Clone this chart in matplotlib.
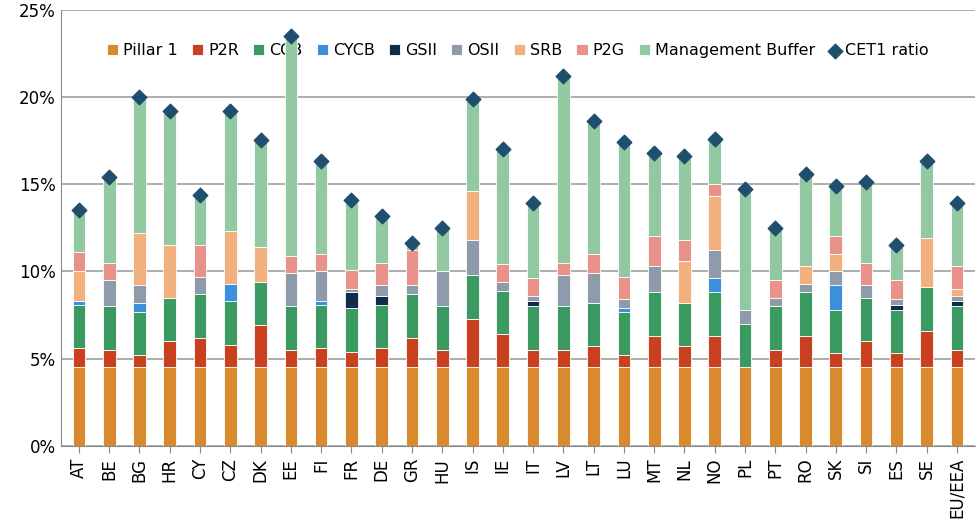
import matplotlib.pyplot as plt
import numpy as np
from matplotlib.ticker import FuncFormatter

countries = ["AT", "BE", "BG", "HR", "CY", "CZ", "DK", "EE", "FI", "FR", "DE", "GR", "HU", "IS", "IE",
             "IT", "LV", "LT", "LU", "MT", "NL", "NO", "PL", "PT", "RO", "SK", "SI", "ES", "SE", "EU/EEA"]

pillar1 = [4.5] * 30
p2r =  [1.1, 1.0, 0.7, 1.5, 1.7, 1.3, 2.4, 1.0, 1.1, 0.9, 1.1, 1.7, 1.0, 2.8, 1.9,
        1.0, 1.0, 1.2, 0.7, 1.8, 1.2, 1.8, 0.0, 1.0, 1.8, 0.8, 1.5, 0.8, 2.1, 1.0]
ccb =  [2.5] * 30
cycb = [0.2, 0.0, 0.5, 0.0, 0.0, 1.0, 0.0, 0.0, 0.2, 0.0, 0.0, 0.0, 0.0, 0.0, 0.0,
        0.0, 0.0, 0.0, 0.2, 0.0, 0.0, 0.8, 0.0, 0.0, 0.0, 1.4, 0.0, 0.0, 0.0, 0.0]
gsii = [0.0, 0.0, 0.0, 0.0, 0.0, 0.0, 0.0, 0.0, 0.0, 0.9, 0.5, 0.0, 0.0, 0.0, 0.0,
        0.3, 0.0, 0.0, 0.0, 0.0, 0.0, 0.0, 0.0, 0.0, 0.0, 0.0, 0.0, 0.3, 0.0, 0.3]
osii = [0.0, 1.5, 1.0, 0.0, 1.0, 0.0, 0.0, 1.9, 1.7, 0.2, 0.6, 0.5, 2.0, 2.0, 0.5,
        0.3, 1.8, 1.7, 0.5, 1.5, 0.0, 1.6, 0.8, 0.5, 0.5, 0.8, 0.7, 0.3, 0.0, 0.3]
srb =  [1.7, 0.0, 3.0, 3.0, 0.0, 3.0, 2.0, 0.0, 0.0, 0.0, 0.0, 0.0, 0.0, 2.8, 0.0,
        0.0, 0.0, 0.0, 0.0, 0.0, 2.4, 3.1, 0.0, 0.0, 1.0, 1.0, 0.0, 0.0, 2.8, 0.4]
p2g =  [1.1, 1.0, 0.0, 0.0, 1.8, 0.0, 0.0, 1.0, 1.0, 1.1, 1.3, 2.0, 0.0, 0.0, 1.0,
        1.0, 0.7, 1.1, 1.3, 1.7, 1.2, 0.7, 0.0, 1.0, 0.0, 1.0, 1.3, 1.1, 0.0, 1.3]
cet1 = [13.5, 15.4, 20.0, 19.2, 14.4, 19.2, 17.5, 23.5, 16.3, 14.1, 13.2, 11.6, 12.5, 19.9, 17.0,
        13.9, 21.2, 18.6, 17.4, 16.8, 16.6, 17.6, 14.7, 12.5, 15.6, 14.9, 15.1, 11.5, 16.3, 13.9]

names = ["Pillar 1", "P2R", "CCB", "CYCB", "GSII", "OSII", "SRB", "P2G"]
colors = ["#D98A2E", "#C9401F", "#3A9A62", "#3B8FDC", "#0F2C4A", "#8E9BAA", "#F2B07E", "#E8928A"]
series = [pillar1, p2r, ccb, cycb, gsii, osii, srb, p2g]

fig, ax = plt.subplots(figsize=(9.8, 5.29), dpi=100)
fig.subplots_adjust(left=0.062, right=0.995, top=0.982, bottom=0.157)
x = np.arange(len(countries))
bottom = np.zeros(len(countries))
w = 0.42
for name, col, vals in zip(names, colors, series):
    v = np.array(vals)
    ax.bar(x, v, w, bottom=bottom, color=col, label=name, edgecolor="white", linewidth=0.6, zorder=2)
    bottom += v
mb = np.array(cet1) - bottom - 0.1
ax.bar(x, mb, w, bottom=bottom, color="#92C9A3", label="Management Buffer",
       edgecolor="white", linewidth=0.6, zorder=2)
ax.scatter(x, cet1, marker="D", s=55, color="#1F4E6E", label="CET1 ratio", zorder=3)

ax.set_ylim(0, 25)
ax.set_xlim(-0.6, len(countries) - 0.4)
ax.set_yticks(range(0, 26, 5))
ax.yaxis.set_major_formatter(FuncFormatter(lambda v, p: f"{v:.0f}%"))
ax.grid(axis="y", color="#A0A0A0", linewidth=1.2, zorder=0)
ax.set_xticks(x)
ax.set_xticklabels(countries, rotation=90, fontsize=12)
ax.tick_params(axis="y", labelsize=12, length=0)
ax.tick_params(axis="x", length=5, color="#888888")
for s in ["top", "right"]:
    ax.spines[s].set_visible(False)
for s in ["left", "bottom"]:
    ax.spines[s].set_color("#888888")

handles, labels = ax.get_legend_handles_labels()
order = labels.index("CET1 ratio")
handles = handles[:order] + handles[order + 1:] + [handles[order]]
labels = labels[:order] + labels[order + 1:] + [labels[order]]
leg = ax.legend(handles, labels, loc="upper center", bbox_to_anchor=(0.5, 0.97), ncol=10, frameon=False,
                fontsize=11.5, handlelength=0.7, handletextpad=0.3, columnspacing=0.9, borderpad=0.8)
leg.set_zorder(1)
fig.savefig("out.png")
